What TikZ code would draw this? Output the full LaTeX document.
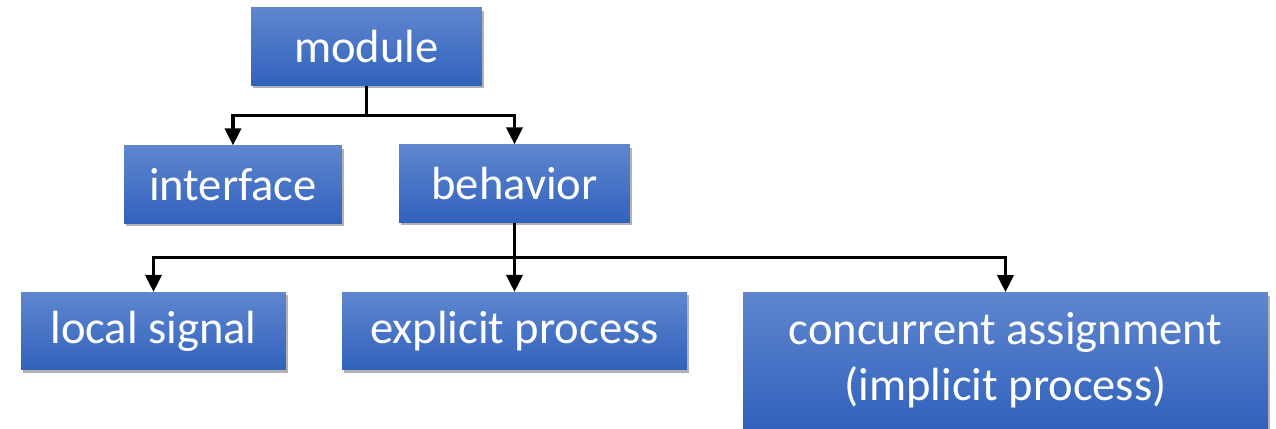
\documentclass[tikz,border=0pt]{standalone}
\usepackage{fontspec}
\setmainfont{Carlito}
\usepackage{xcolor}
\usepackage{tikz}
\usetikzlibrary{arrows.meta}
\usetikzlibrary{shadows}
\definecolor{boxtop}{HTML}{5F86CF}
\definecolor{boxbot}{HTML}{3162BC}
\tikzset{
    boxnode/.style = {align=center, inner sep=0pt, text centered, text=white,
        font=\fontsize{26.5}{32}\selectfont,
        rectangle, top color=boxtop, bottom color=boxbot,
        drop shadow={shadow xshift=0.04cm, shadow yshift=-0.06cm, opacity=0.3, fill=black},
        minimum height=1.55cm},
    conn/.style = {-{Triangle[length=0.34cm, width=0.32cm]}, line width=0.07cm, black}
}

\begin{document}
\begin{tikzpicture}[x=0.02cm, y=-0.02cm]
    \useasboundingbox (0,0) rectangle (1276,429);

    % boxes
    \node [boxnode, minimum width=4.62cm] (module) at (366.5,46.5) {module};
    \node [boxnode, minimum width=4.36cm] (interface) at (233,184.5) {interface};
    \node [boxnode, minimum width=4.62cm] (behavior) at (514.5,183.5) {behavior};
    \node [boxnode, minimum width=5.3cm] (localsig) at (153.5,331) {local signal};
    \node [boxnode, minimum width=6.9cm] (explicit) at (514.5,331) {explicit process};
    \node [boxnode, minimum width=10.5cm, minimum height=2.72cm] (concurrent) at (1005.5,360.5)
        {concurrent assignment\\(implicit process)};

    % connectors
    \draw [conn] (module.south) -- ++(0,30) -| (interface.north);
    \draw [conn] (module.south) -- ++(0,30) -| (behavior.north);
    \draw [conn] (behavior.south) -- ++(0,35) -| (localsig.north);
    \draw [conn] (behavior.south) -- (explicit.north);
    \draw [conn] (behavior.south) -- ++(0,35) -| (concurrent.north);
\end{tikzpicture}
\end{document}
